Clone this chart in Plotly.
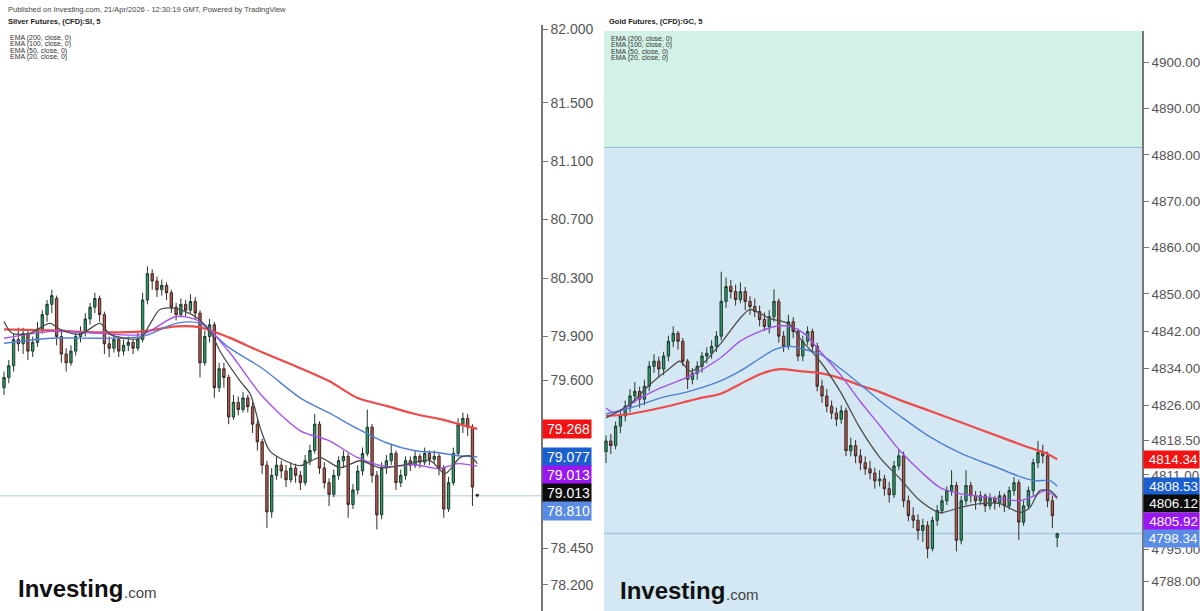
import plotly.graph_objects as go

# ---------------- Silver (left panel) ----------------
si_open = [79.55, 79.62, 79.70, 79.88, 79.85, 79.92, 79.80, 79.86, 79.95, 80.05,
           80.12, 80.16, 79.90, 79.78, 79.72, 79.80, 79.90, 79.93, 80.02, 80.10,
           80.16, 80.05, 79.85, 79.82, 79.88, 79.80, 79.84, 79.86, 79.82, 79.88,
           80.15, 80.33, 80.28, 80.22, 80.25, 80.20, 80.10, 80.05, 80.12, 80.08,
           80.14, 80.06, 79.72, 79.90, 79.98, 79.55, 79.68, 79.62, 79.35, 79.45,
           79.40, 79.48, 79.42, 79.30, 79.18, 79.02, 78.70, 78.95, 79.02, 78.98,
           78.92, 79.00, 78.95, 78.90, 79.05, 79.12, 79.30, 79.00, 78.90, 78.82,
           78.95, 79.05, 79.08, 78.75, 78.85, 78.98, 79.10, 79.28, 78.95, 78.68,
           79.00, 79.05, 79.10, 78.90, 78.95, 79.05, 79.02, 79.08, 79.04, 79.10,
           79.06, 79.08, 79.00, 78.72, 78.90, 79.10, 79.30, 79.34, 79.28, 78.82]
si_high = [79.66, 79.74, 79.92, 79.96, 79.96, 79.95, 79.90, 80.00, 80.08, 80.15,
           80.22, 80.18, 79.95, 79.82, 79.84, 79.93, 79.97, 80.06, 80.13, 80.20,
           80.18, 80.07, 79.90, 79.92, 79.90, 79.88, 79.90, 79.88, 79.93, 80.20,
           80.38, 80.36, 80.31, 80.29, 80.27, 80.22, 80.13, 80.16, 80.15, 80.19,
           80.17, 80.08, 79.94, 80.02, 80.00, 79.72, 79.72, 79.64, 79.50, 79.49,
           79.52, 79.50, 79.45, 79.33, 79.20, 79.05, 79.00, 79.08, 79.05, 79.02,
           79.04, 79.03, 78.98, 79.09, 79.16, 79.37, 79.32, 79.04, 78.93, 78.99,
           79.08, 79.12, 79.10, 78.89, 79.02, 79.14, 79.40, 79.30, 78.98, 79.04,
           79.09, 79.16, 79.12, 78.99, 79.08, 79.08, 79.12, 79.10, 79.14, 79.12,
           79.12, 79.10, 79.02, 78.94, 79.14, 79.34, 79.38, 79.37, 79.30, 78.82]
si_low = [79.50, 79.58, 79.66, 79.80, 79.78, 79.74, 79.76, 79.83, 79.92, 80.00,
          80.06, 79.84, 79.72, 79.66, 79.70, 79.77, 79.86, 79.90, 79.98, 80.06,
          80.00, 79.78, 79.76, 79.79, 79.76, 79.77, 79.80, 79.78, 79.80, 79.86,
          80.12, 80.22, 80.17, 80.18, 80.15, 80.06, 80.01, 80.03, 80.04, 80.06,
          80.02, 79.62, 79.70, 79.86, 79.48, 79.52, 79.55, 79.30, 79.33, 79.36,
          79.38, 79.38, 79.24, 79.12, 78.96, 78.59, 78.66, 78.92, 78.93, 78.87,
          78.90, 78.90, 78.85, 78.88, 79.02, 79.10, 78.96, 78.86, 78.74, 78.80,
          78.92, 79.00, 78.66, 78.72, 78.82, 78.95, 79.08, 78.90, 78.58, 78.65,
          78.96, 79.02, 78.85, 78.87, 78.92, 78.98, 79.00, 79.00, 79.02, 79.02,
          79.03, 78.95, 78.66, 78.70, 78.88, 79.08, 79.24, 79.22, 78.74, 78.80]
si_close = [79.62, 79.70, 79.88, 79.85, 79.92, 79.80, 79.86, 79.95, 80.05, 80.12,
            80.18, 79.90, 79.78, 79.72, 79.80, 79.90, 79.93, 80.02, 80.10, 80.16,
            80.05, 79.85, 79.82, 79.88, 79.80, 79.84, 79.86, 79.82, 79.88, 80.15,
            80.33, 80.28, 80.22, 80.25, 80.20, 80.10, 80.05, 80.12, 80.08, 80.14,
            80.06, 79.72, 79.90, 79.98, 79.55, 79.68, 79.62, 79.35, 79.45, 79.40,
            79.48, 79.42, 79.30, 79.18, 79.02, 78.70, 78.95, 79.02, 78.98, 78.92,
            79.00, 78.95, 78.90, 79.05, 79.12, 79.30, 79.00, 78.90, 78.82, 78.95,
            79.05, 79.08, 78.75, 78.85, 78.98, 79.10, 79.28, 78.95, 78.68, 79.00,
            79.05, 79.10, 78.90, 78.95, 79.05, 79.02, 79.08, 79.04, 79.10, 79.06,
            79.08, 79.00, 78.72, 78.90, 79.10, 79.30, 79.34, 79.28, 78.87, 78.81]

si_ema_x = [0, 10, 20, 29, 36, 41, 47, 54, 62, 68, 74, 80, 86, 91, 95, 99]
si_ema200 = [79.949, 79.942, 79.928, 79.935, 79.969, 79.963, 79.894, 79.792,
             79.683, 79.595, 79.479, 79.425, 79.370, 79.336, 79.302, 79.268]
si_ema100 = [79.854, 79.888, 79.888, 79.901, 79.990, 79.990, 79.826, 79.683,
             79.479, 79.377, 79.268, 79.173, 79.118, 79.105, 79.084, 79.077]
si_ema50 = [79.888, 79.935, 79.922, 79.915, 80.037, 80.003, 79.799, 79.493,
            79.255, 79.187, 79.071, 79.010, 79.023, 78.996, 79.030, 79.013]
si_ema20_x = [0, 1.7, 5.4, 9.6, 11.7, 15.9, 20.1, 22.2, 28.5, 30.5, 32.6, 35.8,
              40, 43.1, 45.2, 49.4, 51.5, 53.6, 55.6, 58.8, 61.9, 66.1, 70.3,
              74.5, 78.6, 82.8, 89.1, 92.3, 95.4, 97.5, 99]
si_ema20 = [80.003, 79.922, 79.922, 79.990, 79.949, 79.915, 79.990, 79.915,
            79.888, 79.983, 80.085, 80.092, 80.037, 79.935, 79.799, 79.595,
            79.507, 79.275, 79.118, 79.050, 79.016, 79.071, 79.003, 79.050,
            79.003, 79.016, 79.050, 78.962, 79.071, 79.084, 79.030]

si_ticks = [82.0, 81.5, 81.1, 80.7, 80.3, 79.9, 79.6, 78.45, 78.2]
si_range = [78.022, 82.032]
si_xrange = [-0.84, 112.34]
si_hline = 78.81
si_tags = [("79.268", 79.268, 0, "#f31212"), ("79.077", 79.077, 0, "#1b5fcf"),
           ("79.013", 79.013, -9, "#9a17f2"), ("79.013", 79.013, -27, "#0b0b0b"),
           ("78.810", 78.810, -15, "#5a8ce6")]

# ---------------- Gold (right panel) ----------------
gc_open = [4816.0, 4818.3, 4817.3, 4821.5, 4823.7, 4825.8, 4828.0, 4829.0, 4827.3, 4830.1,
           4834.4, 4835.5, 4833.8, 4836.6, 4839.8, 4841.5, 4839.8, 4835.5, 4831.6, 4832.9,
           4834.4, 4836.6, 4837.2, 4838.7, 4840.9, 4848.4, 4851.6, 4850.5, 4848.8, 4850.5,
           4848.4, 4847.3, 4846.2, 4844.5, 4843.0, 4845.1, 4848.4, 4840.9, 4838.7, 4844.0,
           4841.9, 4836.6, 4839.8, 4841.9, 4838.7, 4830.1, 4828.0, 4825.8, 4824.3, 4823.0,
           4824.8, 4816.2, 4817.3, 4815.1, 4813.6, 4812.3, 4811.4, 4809.7, 4810.1, 4808.0,
           4806.7, 4812.9, 4815.1, 4805.4, 4802.2, 4801.2, 4799.0, 4800.1, 4795.1, 4801.2,
           4803.3, 4805.4, 4807.6, 4808.7, 4796.9, 4805.4, 4808.7, 4806.5, 4805.4, 4806.5,
           4804.3, 4805.9, 4805.0, 4806.5, 4804.3, 4807.6, 4809.3, 4800.8, 4804.3, 4807.6,
           4813.6, 4815.8, 4815.1, 4805.4, 4797.5]
gc_high = [4819.5, 4819.8, 4822.5, 4825.0, 4827.0, 4829.5, 4831.0, 4830.0, 4831.5, 4835.5,
           4837.0, 4836.5, 4837.5, 4841.0, 4843.0, 4842.0, 4840.5, 4836.0, 4834.0, 4835.5,
           4837.5, 4838.5, 4840.0, 4842.0, 4854.8, 4853.5, 4853.0, 4852.0, 4852.5, 4851.5,
           4849.5, 4849.0, 4847.5, 4846.0, 4846.5, 4851.0, 4849.0, 4842.0, 4845.5, 4845.0,
           4842.5, 4841.0, 4843.0, 4842.5, 4839.5, 4831.5, 4829.5, 4827.0, 4825.5, 4826.0,
           4825.5, 4819.0, 4818.5, 4816.5, 4815.0, 4814.0, 4812.5, 4812.0, 4811.0, 4809.5,
           4814.0, 4816.5, 4816.0, 4806.5, 4804.0, 4802.5, 4801.5, 4801.0, 4802.0, 4804.5,
           4806.5, 4808.5, 4812.0, 4809.5, 4806.5, 4812.0, 4809.5, 4807.5, 4807.5, 4807.0,
           4807.0, 4806.5, 4807.5, 4807.0, 4808.5, 4810.5, 4810.0, 4805.5, 4808.5, 4814.5,
           4818.3, 4817.5, 4816.0, 4806.5, 4798.5]
gc_low = [4813.5, 4815.5, 4816.5, 4820.0, 4822.5, 4824.5, 4826.5, 4825.5, 4826.0, 4829.0,
          4833.0, 4832.0, 4832.5, 4835.5, 4838.5, 4838.0, 4834.5, 4829.5, 4830.5, 4831.5,
          4833.0, 4835.0, 4836.0, 4837.5, 4840.0, 4847.0, 4849.0, 4847.5, 4848.0, 4846.5,
          4845.5, 4845.0, 4843.0, 4842.0, 4841.5, 4844.0, 4839.5, 4837.5, 4838.0, 4840.5,
          4835.5, 4835.5, 4839.0, 4837.5, 4829.0, 4826.5, 4824.5, 4823.0, 4821.5, 4822.0,
          4815.0, 4815.0, 4813.5, 4812.0, 4811.0, 4810.0, 4808.0, 4808.5, 4806.5, 4805.0,
          4806.0, 4812.0, 4804.0, 4801.0, 4799.5, 4797.0, 4796.5, 4793.0, 4794.5, 4800.0,
          4802.5, 4804.5, 4806.5, 4794.5, 4796.0, 4804.5, 4805.0, 4803.5, 4804.5, 4803.0,
          4803.5, 4803.5, 4804.0, 4803.0, 4803.5, 4806.5, 4797.0, 4800.0, 4803.5, 4806.5,
          4812.5, 4813.5, 4804.0, 4799.5, 4795.4]
gc_close = [4818.3, 4817.3, 4821.5, 4823.7, 4825.8, 4828.0, 4829.0, 4827.3, 4830.1, 4834.4,
            4835.5, 4833.8, 4836.6, 4839.8, 4841.5, 4839.8, 4835.5, 4831.6, 4832.9, 4834.4,
            4836.6, 4837.2, 4838.7, 4840.9, 4848.4, 4851.6, 4850.5, 4848.8, 4850.5, 4848.4,
            4847.3, 4846.2, 4844.5, 4843.0, 4845.1, 4848.4, 4840.9, 4838.7, 4844.0, 4841.9,
            4836.6, 4839.8, 4841.9, 4838.7, 4830.1, 4828.0, 4825.8, 4824.3, 4823.0, 4824.8,
            4816.2, 4817.3, 4815.1, 4813.6, 4812.3, 4811.4, 4809.7, 4810.1, 4808.0, 4806.7,
            4812.9, 4815.1, 4805.4, 4802.2, 4801.2, 4799.0, 4800.1, 4795.1, 4801.2, 4803.3,
            4805.4, 4807.6, 4808.7, 4796.9, 4805.4, 4808.7, 4806.5, 4805.4, 4806.5, 4804.3,
            4805.9, 4805.0, 4806.5, 4804.3, 4807.6, 4809.3, 4800.8, 4804.3, 4807.6, 4813.6,
            4815.8, 4815.1, 4805.4, 4802.2, 4798.3]

gc_ema200_x = [0, 5, 11.25, 19.6, 23.75, 27.9, 32.1, 36.25, 40.4, 44.6, 48.75,
               52.9, 57.1, 61.25, 67.5, 73.75, 82.1, 88.3, 91.5, 94]
gc_ema200 = [4823.69, 4824.12, 4825.40, 4827.54, 4828.41, 4830.55, 4832.70, 4833.77,
             4833.34, 4832.91, 4831.84, 4830.33, 4828.83, 4827.11, 4824.76, 4822.40,
             4819.18, 4816.82, 4815.75, 4814.34]
gc_ema100_x = [0, 5, 11.25, 17.5, 23.75, 27.9, 32.1, 35.2, 38.3, 40.4, 44.6,
               48.75, 52.9, 57.1, 61.25, 67.5, 73.75, 82.1, 86.25, 89.4, 92.5, 94]
gc_ema100 = [4824.12, 4825.40, 4827.54, 4829.04, 4831.19, 4833.34, 4836.14, 4838.06,
             4838.71, 4838.28, 4837.00, 4833.99, 4830.55, 4826.91, 4823.69, 4819.18,
             4815.75, 4812.31, 4810.60, 4809.74, 4809.74, 4808.53]
gc_ema50_x = [0, 1.9, 7.1, 11.25, 17.5, 23.75, 27.9, 32.1, 35.2, 38.3, 41.5, 44.6,
              48.75, 52.9, 57.1, 61.25, 65.4, 69.6, 73.75, 82.1, 86.25, 89.4, 91.5, 94]
gc_ema50 = [4825.40, 4824.33, 4827.54, 4829.69, 4832.27, 4836.14, 4839.78, 4841.92,
            4842.99, 4842.99, 4841.28, 4837.63, 4832.70, 4826.91, 4821.54, 4816.18,
            4811.88, 4808.24, 4806.95, 4805.88, 4805.45, 4806.52, 4807.59, 4805.92]
gc_ema20_x = [0, 5, 9.2, 13.3, 15.4, 17.5, 19.6, 23.75, 27.9, 30, 34.2, 38.3, 40.4,
              44.6, 48.75, 52.9, 57.1, 61.25, 65.4, 69.6, 73.75, 77.9, 82.1, 86.25,
              88.3, 90.4, 92.5, 94]
gc_ema20 = [4823.26, 4826.26, 4830.55, 4833.99, 4835.49, 4833.34, 4834.41, 4839.13,
            4844.71, 4846.64, 4844.71, 4843.43, 4840.42, 4835.49, 4829.04, 4821.11,
            4814.67, 4810.17, 4805.45, 4802.88, 4803.95, 4804.81, 4804.81, 4802.88,
            4803.95, 4807.59, 4807.59, 4806.12]

gc_ticks = [4900, 4890, 4880, 4870, 4860, 4850, 4842, 4834, 4826, 4818.5, 4811,
            4795, 4788, 4781]
gc_range = [4781.64, 4906.72]
gc_xrange = [-0.42, 111.67]
gc_zone = 4881.6
gc_hline = 4798.34
gc_tags = [("4814.34", 4814.34, 0, "#f31212"), ("4808.53", 4808.53, 0, "#1b5fcf"),
           ("4806.12", 4806.12, -6, "#0b0b0b"), ("4805.92", 4805.92, -23, "#9a17f2"),
           ("4798.34", 4798.34, -5, "#5a8ce6")]

ema_labels = ["EMA (200, close, 0)", "EMA (100, close, 0)",
              "EMA (50, close, 0)", "EMA (20, close, 0)"]
ema_colors = ["#ec4b4b", "#4e7fd3", "#a552e8", "#4d4d4d"]
ema_widths = [2.2, 1.4, 1.4, 1.3]

FONT = "Liberation Sans, Arial, sans-serif"
W, H = 1200, 611

fig = go.Figure()

candle_style = dict(
    increasing=dict(fillcolor="#2f9c6b", line=dict(color="#1d3a2c", width=1)),
    decreasing=dict(fillcolor="#b25b50", line=dict(color="#3e2622", width=1)),
    whiskerwidth=0, hoverinfo="skip", showlegend=False,
)

fig.add_trace(go.Candlestick(x=list(range(len(si_close))), open=si_open, high=si_high,
                             low=si_low, close=si_close, xaxis="x", yaxis="y",
                             **candle_style))
fig.add_trace(go.Candlestick(x=list(range(len(gc_close))), open=gc_open, high=gc_high,
                             low=gc_low, close=gc_close, xaxis="x2", yaxis="y2",
                             **candle_style))

si_emas = [(si_ema_x, si_ema200), (si_ema_x, si_ema100), (si_ema_x, si_ema50),
           (si_ema20_x, si_ema20)]
gc_emas = [(gc_ema200_x, gc_ema200), (gc_ema100_x, gc_ema100), (gc_ema50_x, gc_ema50),
           (gc_ema20_x, gc_ema20)]
for (ex, ey), col, w in zip(si_emas, ema_colors, ema_widths):
    fig.add_trace(go.Scatter(x=ex, y=ey, mode="lines", xaxis="x", yaxis="y",
                             line=dict(color=col, width=w, shape="spline", smoothing=0.8),
                             hoverinfo="skip", showlegend=False))
for (ex, ey), col, w in zip(gc_emas, ema_colors, ema_widths):
    fig.add_trace(go.Scatter(x=ex, y=ey, mode="lines", xaxis="x2", yaxis="y2",
                             line=dict(color=col, width=w, shape="spline", smoothing=0.8),
                             hoverinfo="skip", showlegend=False))

shapes = [
    dict(type="rect", xref="x2 domain", yref="y2", x0=0, x1=1, y0=gc_range[0], y1=gc_zone,
         fillcolor="#d4e8f3", line=dict(width=0), layer="below"),
    dict(type="rect", xref="x2 domain", yref="y2", x0=0, x1=1, y0=gc_zone, y1=gc_range[1],
         fillcolor="#d3f2e7", line=dict(width=0), layer="below"),
    dict(type="line", xref="x2 domain", yref="y2", x0=0, x1=1, y0=gc_zone, y1=gc_zone,
         line=dict(color="#86bcc6", width=1), layer="below"),
    dict(type="line", xref="x domain", yref="y", x0=0, x1=1, y0=si_hline, y1=si_hline,
         line=dict(color="#c9dcea", width=1.5), layer="below"),
    dict(type="line", xref="x2 domain", yref="y2", x0=0, x1=1, y0=gc_hline, y1=gc_hline,
         line=dict(color="#a3cbe0", width=1.5), layer="below"),
]

annotations = []


def text(x, y, s, size, color="#333", bold=False):
    annotations.append(dict(
        xref="paper", yref="paper", x=x / W, y=1 - y / H, text=f"<b>{s}</b>" if bold else s,
        showarrow=False, xanchor="left", yanchor="middle",
        font=dict(family=FONT, size=size, color=color)))


text(6, 7, "Published on Investing.com, 21/Apr/2026 - 12:30:19 GMT, Powered by TradingView", 7.5, "#444")
text(6, 19, "Silver Futures, (CFD):SI, 5", 7.5, "#222", True)
text(607, 19, "Gold Futures, (CFD):GC, 5", 7.5, "#222", True)
for k, lab in enumerate(ema_labels):
    text(8, 35 + 6.5 * k, lab, 7, "#333")
    text(609, 36 + 6.5 * k, lab, 7, "#333")

# logos
text(16, 588, "Investing", 24, "#111", True)
text(122, 592, ".com", 15, "#444")
text(618, 590, "Investing", 24, "#111", True)
text(724, 594, ".com", 15, "#444")

# price tags on the axes
for lab, val, shift, col in si_tags:
    annotations.append(dict(xref="paper", yref="y", x=542 / W, y=val, yshift=shift,
                            text=lab, showarrow=False, xanchor="left", yanchor="middle",
                            bgcolor=col, borderpad=1, width=46, align="right",
                            font=dict(family=FONT, size=14, color="white")))
for lab, val, shift, col in gc_tags:
    annotations.append(dict(xref="paper", yref="y2", x=1143 / W, y=val, yshift=shift,
                            text=lab, showarrow=False, xanchor="left", yanchor="middle",
                            bgcolor=col, borderpad=1, width=53, align="right",
                            font=dict(family=FONT, size=13.5, color="white")))

axis_common = dict(side="right", showline=True, linecolor="#777", linewidth=1.5,
                   ticks="outside", ticklen=5, tickcolor="#777", showgrid=False,
                   zeroline=False, fixedrange=True)

fig.update_layout(
    width=W, height=H, margin=dict(l=0, r=0, t=0, b=0),
    paper_bgcolor="white", plot_bgcolor="rgba(0,0,0,0)",
    showlegend=False, hovermode=False,
    xaxis=dict(domain=[0, 541 / W], range=si_xrange, visible=False,
               rangeslider=dict(visible=False)),
    xaxis2=dict(domain=[604 / W, 1142 / W], range=gc_xrange, visible=False,
                rangeslider=dict(visible=False), anchor="y2"),
    yaxis=dict(domain=[0, 1 - 22 / H], range=si_range, anchor="x", tickvals=si_ticks,
               tickformat=".3f", tickfont=dict(family=FONT, size=14, color="#555"),
               **axis_common),
    yaxis2=dict(domain=[0, 1 - 28 / H], range=gc_range, anchor="x2", tickvals=gc_ticks,
                tickformat=".2f", tickfont=dict(family=FONT, size=13.5, color="#555"),
                **axis_common),
    shapes=shapes, annotations=annotations,
)

fig.write_html("out.html", config={"displayModeBar": False},
               post_script="document.body.style.margin='0';document.body.style.overflow='hidden';")
